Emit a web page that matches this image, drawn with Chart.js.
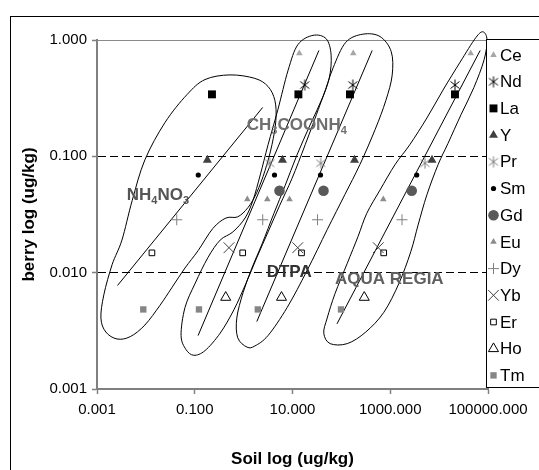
<!DOCTYPE html>
<html>
<head>
<meta charset="utf-8">
<title>berry vs soil REE</title>
<script src="https://cdn.jsdelivr.net/npm/chart.js@4.4.1/dist/chart.umd.min.js"></script>
<style>
  body { margin: 0; background: #fff; }
  #wrap { width: 539px; height: 470px; }
</style>
</head>
<body>
<div id="wrap"><canvas id="myChart" width="539" height="470"></canvas></div>
<script>
// elements, in legend order
const elements = ['Ce', 'Nd', 'La', 'Y', 'Pr', 'Sm', 'Gd', 'Eu', 'Dy', 'Yb', 'Er', 'Ho', 'Tm'];

// berry concentration (ug/kg), one per element
const berry = [0.769, 0.410, 0.341, 0.0929, 0.0871, 0.0691, 0.0506, 0.0427, 0.0285, 0.0164, 0.0148, 0.00613, 0.00483];

// soil concentration (ug/kg) for each extraction, null = not plotted
const soilNH4NO3     = [null, null, 0.225, 0.181, null, 0.118, null, 1.19, 0.0428, null, 0.0133, null, 0.00885];
const soilCH3COONH4  = [13.8, 17.8, 13.2, 6.24, 3.42, 4.28, 5.42, 3.05, 2.46, 0.502, 0.957, 0.430, 0.122];
const soilDTPA       = [175, 171, 150, 186, 37.8, 37.4, 43.1, 8.69, 32.5, 12.8, 15.3, 5.96, 1.95];
const soilAquaRegia  = [44300, 21100, 21100, 7150, 5140, 3480, 2750, 721, 1740, 569, 735, 294, 98.2];

// trend lines, two ends each [soil, berry]
const trendNH4NO3    = [[0.00263, 0.00776], [2.45, 0.263]];
const trendCH3COONH4 = [[0.117, 0.00288], [34.7, 0.813]];
const trendDTPA      = [[1.86, 0.0038], [427, 0.813]];
const trendAquaRegia = [[81.3, 0.00363], [69200, 0.813]];

const xTicks = [0.001, 0.1, 10, 1000, 100000];
const yTicks = [0.001, 0.01, 0.1, 1];

// hand drawn outlines round each group, in log10 units [log soil, log berry]
const loopNH4NO3 = [[-2.92,-2.39],[-2.86,-2.19],[-2.69,-1.93],[-2.49,-1.72],[-2.28,-1.38],[-2.02,-1.03],[-1.61,-0.71],[-1.16,-0.47],[-0.79,-0.34],[-0.28,-0.30],[0.23,-0.33],[0.50,-0.40],[0.64,-0.52],[0.66,-0.69],[0.58,-0.90],[0.44,-1.12],[0.27,-1.31],[0.09,-1.44],[-0.12,-1.52],[-0.36,-1.53],[-0.63,-1.62],[-0.93,-1.81],[-1.20,-1.96],[-1.47,-2.13],[-1.71,-2.28],[-2.02,-2.45],[-2.32,-2.55],[-2.59,-2.57],[-2.82,-2.51]];
const loopCH3COONH4 = [[-1.18,-2.66],[-1.28,-2.54],[-1.20,-2.30],[-0.99,-2.09],[-0.73,-1.87],[-0.48,-1.72],[-0.22,-1.65],[0.03,-1.53],[0.19,-1.38],[0.34,-1.16],[0.50,-0.90],[0.70,-0.60],[0.91,-0.26],[1.11,-0.04],[1.42,0.04],[1.69,0.01],[1.79,-0.13],[1.75,-0.33],[1.56,-0.56],[1.26,-0.90],[0.99,-1.19],[0.74,-1.42],[0.50,-1.65],[0.27,-1.87],[0.05,-2.09],[-0.20,-2.32],[-0.48,-2.52],[-0.79,-2.67],[-1.02,-2.71]];
const loopDTPA = [[0.07,-2.64],[-0.12,-2.56],[-0.14,-2.39],[-0.01,-2.17],[0.17,-1.96],[0.38,-1.75],[0.62,-1.49],[0.85,-1.25],[1.09,-0.99],[1.36,-0.73],[1.62,-0.49],[1.83,-0.24],[2.09,-0.02],[2.44,0.05],[2.79,0.03],[3.02,-0.10],[3.04,-0.30],[2.91,-0.52],[2.69,-0.77],[2.38,-1.07],[2.07,-1.33],[1.71,-1.63],[1.30,-1.98],[0.89,-2.30],[0.50,-2.54],[0.23,-2.63]];
const loopAquaRegia = [[1.77,-2.61],[1.64,-2.52],[1.71,-2.39],[1.87,-2.18],[2.12,-1.92],[2.34,-1.69],[2.52,-1.49],[2.79,-1.29],[3.10,-1.07],[3.40,-0.90],[3.75,-0.67],[4.08,-0.43],[4.43,-0.19],[4.75,0.02],[4.90,0.07],[4.98,0.00],[4.92,-0.17],[4.71,-0.41],[4.45,-0.64],[4.18,-0.89],[3.98,-1.07],[3.75,-1.33],[3.57,-1.59],[3.42,-1.82],[3.18,-2.09],[2.87,-2.34],[2.50,-2.51],[2.12,-2.61]];

// group labels: text parts (1 = subscript), anchor in log10 units
const groupLabels = [
  { parts: [['NH', 0], ['4', 1], ['NO', 0], ['3', 1]], at: [-2.39, -1.376], color: '#555555' },
  { parts: [['CH', 0], ['3', 1], ['COONH', 0], ['4', 1]], at: [0.063, -0.774], color: '#6f6f6f' },
  { parts: [['DTPA', 0]], at: [0.472, -2.035], color: '#333333' },
  { parts: [['AQUA REGIA', 0]], at: [1.87, -2.098], color: '#5f5f5f' }
];

const FONT = '"Liberation Sans", Arial, sans-serif';
Chart.defaults.font.family = FONT;
Chart.defaults.color = '#000';

function asterisk(color) {
  const c = document.createElement('canvas');
  c.width = 12; c.height = 12;
  const g = c.getContext('2d');
  g.strokeStyle = color;
  g.lineWidth = 1;
  g.beginPath();
  g.moveTo(1.5, 2.5); g.lineTo(10.5, 9.5);
  g.moveTo(10.5, 2.5); g.lineTo(1.5, 9.5);
  g.moveTo(6, 0.5); g.lineTo(6, 11.5);
  g.stroke();
  return c;
}

const markers = {
  Ce: { style: 'triangle', r: 3.8, bg: '#a6a6a6', bc: '#a6a6a6', bw: 0 },
  Nd: { style: asterisk('#000'), r: 6, bg: '#000', bc: '#000', bw: 0 },
  La: { style: 'rect', r: 5.6, bg: '#000', bc: '#000', bw: 0 },
  Y:  { style: 'triangle', r: 5.2, bg: '#404040', bc: '#404040', bw: 0 },
  Pr: { style: asterisk('#808080'), r: 6, bg: '#808080', bc: '#808080', bw: 0 },
  Sm: { style: 'circle', r: 2.6, bg: '#000', bc: '#000', bw: 0 },
  Gd: { style: 'circle', r: 5.3, bg: '#595959', bc: '#595959', bw: 0 },
  Eu: { style: 'triangle', r: 3.8, bg: '#8c8c8c', bc: '#8c8c8c', bw: 0 },
  Dy: { style: 'cross', r: 5.5, bg: '#808080', bc: '#808080', bw: 1 },
  Yb: { style: 'crossRot', r: 7.6, bg: '#404040', bc: '#404040', bw: 1 },
  Er: { style: 'rect', r: 4, bg: '#fff', bc: '#000', bw: 1 },
  Ho: { style: 'triangle', r: 5.8, bg: '#fff', bc: '#000', bw: 1 },
  Tm: { style: 'rect', r: 4.5, bg: '#858585', bc: '#858585', bw: 0 }
};

const extractions = [soilNH4NO3, soilCH3COONH4, soilDTPA, soilAquaRegia];

const pointSets = elements.map((el, i) => {
  const m = markers[el];
  const pts = [];
  extractions.forEach(arr => {
    if (arr[i] !== null) pts.push({ x: arr[i], y: berry[i] });
  });
  return {
    label: el,
    data: pts,
    inLegend: true,
    showLine: false,
    pointStyle: m.style,
    pointRadius: m.r,
    pointBackgroundColor: m.bg,
    pointBorderColor: m.bc,
    pointBorderWidth: m.bw
  };
});

const trendSets = [trendNH4NO3, trendCH3COONH4, trendDTPA, trendAquaRegia].map(t => ({
  label: '',
  data: t.map(p => ({ x: p[0], y: p[1] })),
  showLine: true,
  borderColor: '#000',
  borderWidth: 1,
  pointRadius: 0,
  clip: false
}));

function smoothClosed(ctx, pts) {
  const n = pts.length;
  ctx.beginPath();
  ctx.moveTo(pts[0][0], pts[0][1]);
  for (let i = 0; i < n; i++) {
    const p0 = pts[(i - 1 + n) % n], p1 = pts[i], p2 = pts[(i + 1) % n], p3 = pts[(i + 2) % n];
    ctx.bezierCurveTo(
      p1[0] + (p2[0] - p0[0]) / 6, p1[1] + (p2[1] - p0[1]) / 6,
      p2[0] - (p3[0] - p1[0]) / 6, p2[1] - (p3[1] - p1[1]) / 6,
      p2[0], p2[1]);
  }
  ctx.closePath();
  ctx.stroke();
}

const groups = {
  id: 'groups',
  beforeDatasetsDraw(chart) {
    const { ctx, scales: { x, y } } = chart;
    ctx.save();
    ctx.strokeStyle = '#000';
    ctx.lineWidth = 1;
    [loopNH4NO3, loopCH3COONH4, loopDTPA, loopAquaRegia].forEach(loop => {
      const px = loop.map(p => [x.getPixelForValue(Math.pow(10, p[0])), y.getPixelForValue(Math.pow(10, p[1]))]);
      smoothClosed(ctx, px);
    });
    ctx.restore();
  },
  afterDatasetsDraw(chart) {
    const { ctx, scales: { x, y } } = chart;
    ctx.save();
    ctx.textBaseline = 'alphabetic';
    ctx.textAlign = 'left';
    groupLabels.forEach(lb => {
      let px = x.getPixelForValue(Math.pow(10, lb.at[0]));
      const py = y.getPixelForValue(Math.pow(10, lb.at[1]));
      ctx.fillStyle = lb.color;
      lb.parts.forEach(([txt, sub]) => {
        ctx.font = sub ? 'bold 11px ' + FONT : 'bold 17px ' + FONT;
        ctx.fillText(txt, px, py + (sub ? 4 : 0));
        px += ctx.measureText(txt).width;
      });
    });
    ctx.restore();
  }
};

const frame = {
  id: 'frame',
  afterDraw(chart) {
    const { ctx, chartArea: area } = chart;
    ctx.save();
    ctx.strokeStyle = '#000';
    ctx.lineWidth = 1;
    ctx.strokeRect(10.5, 16.5, 600, 500);
    // legend box
    const lx = Math.round(area.right) - 1.5;
    ctx.fillStyle = '#fff';
    ctx.fillRect(lx, area.top - 0.5, 100, area.bottom - area.top - 1);
    ctx.strokeRect(lx, area.top - 0.5, 100, area.bottom - area.top - 1);
    let k = 0;
    chart.data.datasets.forEach(ds => {
      if (!ds.inLegend) return;
      const yy = area.top + 15 + k * 26.7;
      ctx.fillStyle = ds.pointBackgroundColor;
      ctx.strokeStyle = ds.pointBorderColor;
      ctx.lineWidth = ds.pointBorderWidth || 1;
      Chart.helpers.drawPoint(ctx, {
        pointStyle: ds.pointStyle, rotation: 0, radius: ds.pointRadius, borderWidth: ds.pointBorderWidth
      }, lx + 7, yy);
      ctx.fillStyle = '#000';
      ctx.font = '17px ' + FONT;
      ctx.textBaseline = 'middle';
      ctx.textAlign = 'left';
      ctx.fillText(ds.label, lx + 13.5, yy + 1);
      k++;
    });
    ctx.restore();
  }
};

const ctx = document.getElementById('myChart').getContext('2d');
const chart = new Chart(ctx, {
  type: 'scatter',
  data: { datasets: pointSets.concat(trendSets) },
  options: {
    responsive: false,
    animation: false,
    events: [],
    layout: { padding: { left: 0, right: 51, top: 40, bottom: 0 } },
    plugins: { legend: { display: false }, tooltip: { enabled: false } },
    scales: {
      x: {
        type: 'logarithmic',
        min: 0.001,
        max: 100000,
        afterBuildTicks: s => { s.ticks = xTicks.map(v => ({ value: v })); },
        afterFit: s => { s.height = 81; },
        ticks: {
          autoSkip: false, maxRotation: 0, padding: 7,
          font: { size: 15 },
          callback: v => Number(v).toFixed(3)
        },
        grid: { drawOnChartArea: false, drawTicks: true, tickLength: 5, tickColor: '#808080', tickWidth: 1.5 },
        border: { display: true, color: '#808080', width: 2 },
        title: { display: true, text: 'Soil log (ug/kg)', font: { size: 17, weight: 'bold' }, padding: { top: 0, bottom: 0 } }
      },
      y: {
        type: 'logarithmic',
        min: 0.001,
        max: 1,
        afterBuildTicks: s => { s.ticks = yTicks.map(v => ({ value: v })); },
        afterFit: s => { s.width = 97; },
        ticks: {
          autoSkip: false, padding: 5,
          font: { size: 15 },
          callback: v => Number(v).toFixed(3)
        },
        grid: {
          drawTicks: true, tickLength: 5, tickColor: '#808080', tickWidth: 1.5,
          lineWidth: 1,
          color: c => {
            if (!c.tick) return '#000';
            if (c.tick.value === 1) return '#8a8a8a';
            if (c.tick.value === 0.001) return 'rgba(0,0,0,0)';
            return '#000';
          }
        },
        border: {
          display: true, color: '#808080', width: 2,
          dash: c => (c.tick && c.tick.value > 0.002 && c.tick.value < 0.5) ? [8, 4] : []
        },
        title: { display: true, text: 'berry log (ug/kg)', font: { size: 17, weight: 'bold' }, padding: { top: 19, bottom: 0 } }
      }
    }
  },
  plugins: [groups, frame]
});
</script>
</body>
</html>
